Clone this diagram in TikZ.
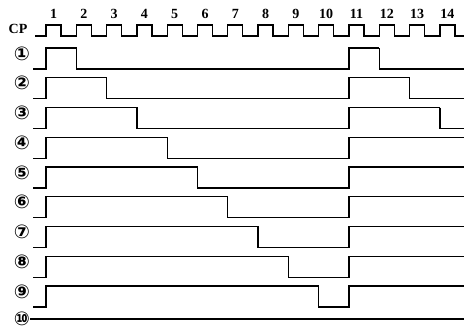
\documentclass[tikz,border=0pt]{standalone}
\usepackage{fontspec}
\setmainfont{Liberation Serif}
\newfontfamily\circfont{DejaVu Sans}
\usetikzlibrary{positioning}

\begin{document}
\begin{tikzpicture}[x=1pt, y=-1pt,
    wave/.style={line width=1.3pt, line join=miter},
    num/.style={font=\fontsize{14}{14}\selectfont\bfseries, inner sep=0pt},
    circ/.style={font=\circfont\bfseries\fontsize{19}{19}\selectfont, inner sep=0pt}
]
\useasboundingbox (0,0) rectangle (465,335);
\node[num] (cp) at (18,29) {CP};
\draw[wave] (35,36) -- (46,36)
  \foreach \k in {0,...,13} {-- ({46+30.3*\k},36) -- ({46+30.3*\k},25) -- ({61+30.3*\k},25) -- ({61+30.3*\k},36)} -- (464,36);
\foreach \k in {1,...,14}
  \node[num] (n\k) at ({53.5+30.3*(\k-1)},14) {\k};
\foreach \k/\c in {1/①, 2/②, 3/③, 4/④, 5/⑤, 6/⑥, 7/⑦, 8/⑧, 9/⑨} {
  \pgfmathsetmacro{\hy}{48+29.75*(\k-1)}
  \pgfmathsetmacro{\ly}{\hy+21}
  \pgfmathsetmacro{\fa}{46+30.3*\k}
  \pgfmathsetmacro{\fb}{min(349+30.3*\k,464)}
  \node[circ] (q\k) at (22,\hy+5.5) {\c};
  \draw[wave] (33,\ly) -- (46,\ly) -- (46,\hy) -- (\fa,\hy) -- (\fa,\ly) -- (349,\ly) -- (349,\hy) -- (\fb,\hy);
  \ifnum\k<4
    \draw[wave] (\fb,\hy) -- (\fb,\ly) -- (464,\ly);
  \fi
}
\node[circ] (q10) at (22,319) {⑩};
\draw[wave] (q10.east) -- (464,319);
\end{tikzpicture}
\end{document}
